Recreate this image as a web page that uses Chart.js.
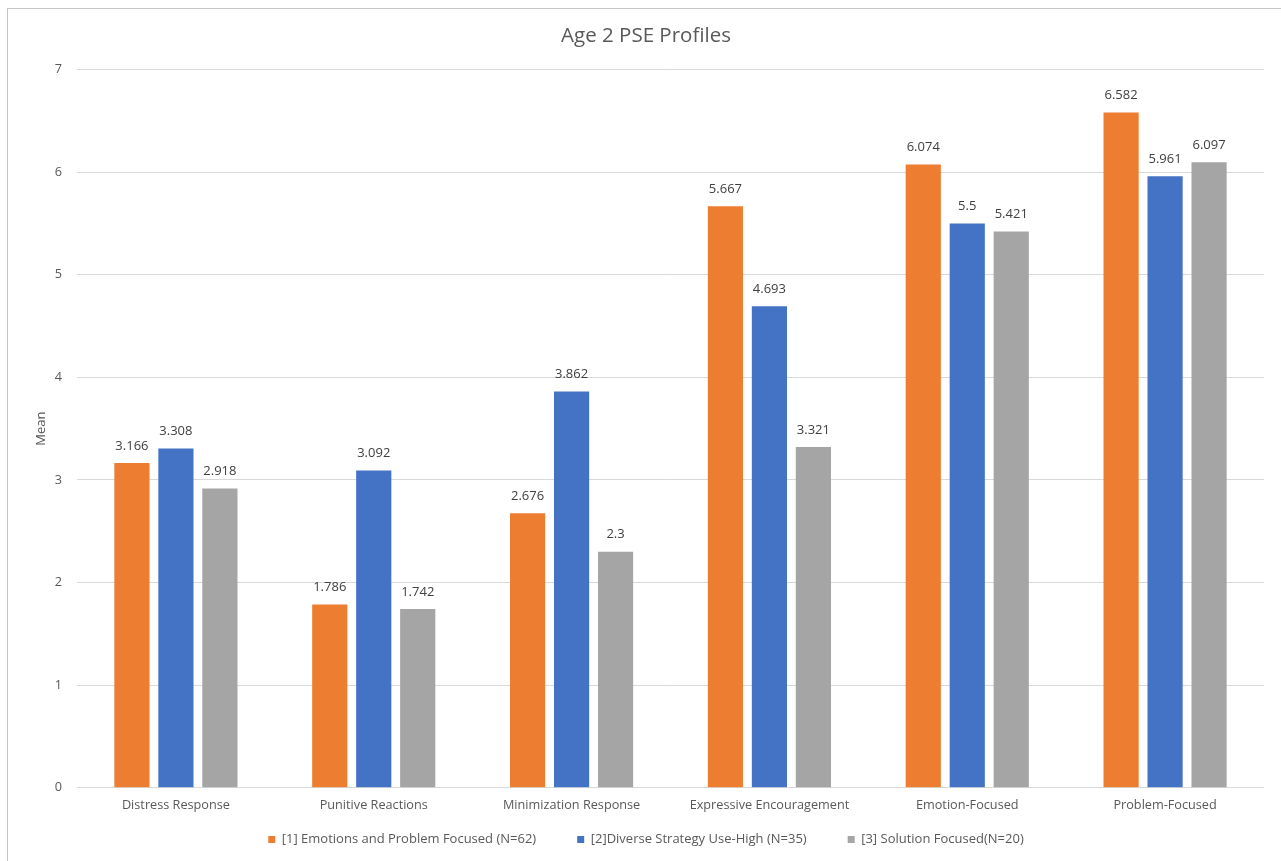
<!DOCTYPE html>
<html>
<head>
<meta charset="utf-8">
<script src="https://cdn.jsdelivr.net/npm/chart.js@4.4.1/dist/chart.umd.min.js"></script>
<style>
  html, body { margin: 0; padding: 0; background: #ffffff; overflow: hidden; }
  #frame { position: absolute; left: 7px; top: 8px; width: 1300px; height: 900px; border: 1px solid #c6c6c6; box-sizing: border-box; }
  #wrap { position: absolute; left: 0; top: 0; width: 1281px; height: 861px; }
</style>
</head>
<body>
<div id="frame"></div>
<div id="wrap"><canvas id="chart" width="1281" height="861"></canvas></div>
<script>
const categories = ['Distress Response', 'Punitive Reactions', 'Minimization Response', 'Expressive Encouragement', 'Emotion-Focused', 'Problem-Focused'];
const seriesNames = ['[1] Emotions and Problem Focused (N=62)', '[2]Diverse Strategy Use-High (N=35)', '[3] Solution Focused(N=20)'];
const emotionsProblem = [3.166, 1.786, 2.676, 5.667, 6.074, 6.582];
const diverseHigh = [3.308, 3.092, 3.862, 4.693, 5.5, 5.961];
const solutionFocused = [2.918, 1.742, 2.3, 3.321, 5.421, 6.097];
const seriesColors = ['#ed7d31', '#4472c4', '#a5a5a5'];
const yTicks = [0, 1, 2, 3, 4, 5, 6, 7];

const FONT = "'Open Sans', 'Noto Sans', sans-serif";
const TEXT = '#595959';
const LEGEND_GAP = 41;   // horizontal space between legend entries
const LEGEND_TRIM = 31;  // vertical space removed from the legend band

// Writes each bar's value above it
const valueLabels = {
  id: 'valueLabels',
  afterDatasetsDraw(chart) {
    const ctx = chart.ctx;
    ctx.save();
    ctx.font = '13px ' + FONT;
    ctx.fillStyle = '#404040';
    ctx.textAlign = 'center';
    ctx.textBaseline = 'middle';
    chart.data.datasets.forEach((ds, i) => {
      chart.getDatasetMeta(i).data.forEach((bar, j) => {
        ctx.fillText(String(ds.data[j]), bar.x, bar.y - 17);
      });
    });
    ctx.restore();
  }
};

// Keeps the wide horizontal spacing between legend entries without the
// matching vertical padding around the legend row
const compactLegend = {
  id: 'compactLegend',
  beforeLayout(chart) {
    const lg = chart.legend;
    if (!lg || lg._compacted) return;
    lg._compacted = true;
    const fit = lg.fit;
    lg.fit = function () { fit.call(this); this.height -= LEGEND_TRIM; };
    const drawItems = lg._draw;
    lg._draw = function () {
      this.ctx.save();
      this.ctx.translate(0, -LEGEND_TRIM);
      drawItems.call(this);
      this.ctx.restore();
    };
  }
};

new Chart(document.getElementById('chart'), {
  type: 'bar',
  data: {
    labels: categories,
    datasets: [
      { label: seriesNames[0], data: emotionsProblem, backgroundColor: seriesColors[0] },
      { label: seriesNames[1], data: diverseHigh, backgroundColor: seriesColors[1] },
      { label: seriesNames[2], data: solutionFocused, backgroundColor: seriesColors[2] }
    ]
  },
  options: {
    responsive: false,
    animation: false,
    devicePixelRatio: 1,
    categoryPercentage: 0.667,
    barPercentage: 0.8,
    layout: { padding: { left: 28, right: 17, top: 24, bottom: 5 } },
    plugins: {
      title: {
        display: true,
        text: 'Age 2 PSE Profiles',
        color: TEXT,
        font: { family: FONT, size: 20.5, weight: 'normal' },
        padding: { top: 0, bottom: 21 }
      },
      legend: {
        position: 'bottom',
        labels: {
          color: TEXT,
          font: { family: FONT, size: 13 },
          boxWidth: 7,
          boxHeight: 7,
          padding: LEGEND_GAP
        }
      },
      tooltip: { enabled: false }
    },
    scales: {
      x: {
        grid: { display: false, drawTicks: false },
        border: { display: false },
        ticks: { color: TEXT, font: { family: FONT, size: 12.7 }, padding: 10 }
      },
      y: {
        min: 0,
        max: 7,
        afterBuildTicks(scale) { scale.ticks = yTicks.map(v => ({ value: v })); },
        afterFit(scale) { scale.width = 49; },
        grid: { color: '#d9d9d9', drawTicks: false },
        border: { display: false },
        ticks: { color: TEXT, font: { family: FONT, size: 12.7 }, padding: 15 },
        title: {
          display: true,
          text: 'Mean',
          color: TEXT,
          font: { family: FONT, size: 13 },
          padding: { top: 5, bottom: 0 }
        }
      }
    }
  },
  plugins: [valueLabels, compactLegend]
});
</script>
</body>
</html>
